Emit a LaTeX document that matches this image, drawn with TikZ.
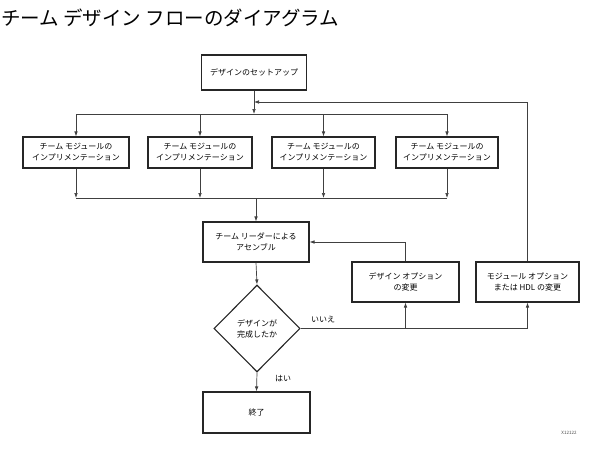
\documentclass[tikz,border=0pt]{standalone}
\usepackage{fontspec}
\setmainfont{Noto Sans CJK JP}
\usetikzlibrary{shapes.geometric,arrows.meta}
\tikzset{
  x=1pt,y=-1pt,
  boxst/.style={draw=black!85,line width=1.1pt,fill=white,align=center,font=\fontsize{8}{11}\selectfont,inner sep=2pt},
  conn/.style={draw=black!75,line width=0.7pt},
  arr/.style={conn,-{Latex[length=5pt,width=3.6pt]}},
  lbl/.style={font=\fontsize{8}{10}\selectfont,inner sep=0pt}
}
\begin{document}
\begin{tikzpicture}
\useasboundingbox[fill=white] (0,0) rectangle (589,450);
\node[anchor=west,inner sep=0pt,font=\fontsize{19.5}{21}\selectfont] (title) at (1,18) {チーム デザイン フローのダイアグラム};

\node[boxst,minimum width=105pt,minimum height=35pt] (setup) at (254,72.5) {デザインのセットアップ};
\node[boxst,minimum width=106pt,minimum height=31pt] (m1) at (76,152.5) {チーム モジュールの\\インプリメンテーション};
\node[boxst,minimum width=104pt,minimum height=31pt] (m2) at (200,152.5) {チーム モジュールの\\インプリメンテーション};
\node[boxst,minimum width=103pt,minimum height=31pt] (m3) at (323.5,152.5) {チーム モジュールの\\インプリメンテーション};
\node[boxst,minimum width=102pt,minimum height=31pt] (m4) at (447,152.5) {チーム モジュールの\\インプリメンテーション};
\node[boxst,minimum width=106pt,minimum height=40pt] (asm) at (256,242) {チーム リーダーによる\\アセンブル};
\node[boxst,diamond,minimum width=86pt,minimum height=87pt,inner sep=0pt] (dec) at (257,328.5) {デザインが\\完成したか};
\node[boxst,minimum width=107pt,minimum height=40pt] (opt) at (405.5,282) {デザイン オプション\\の変更};
\node[boxst,minimum width=103pt,minimum height=40pt] (mod) at (527.5,282) {モジュール オプション\\または HDL の変更};
\node[boxst,minimum width=107pt,minimum height=41pt] (fin) at (256.5,412.5) {終了};

\coordinate (splitT) at (0,114);
\coordinate (joinB) at (0,198);
\coordinate (loopT) at (0,102);

\draw[arr] (setup.south) -- (setup.south |- splitT);
\draw[conn] (m1.north |- splitT) -- (m4.north |- splitT);
\foreach \m in {m1,m2,m3,m4} {
  \draw[arr] (\m.north |- splitT) -- (\m.north);
  \draw[arr] (\m.south) -- (\m.south |- joinB);
}
\draw[conn] (m1.south |- joinB) -- (m4.south |- joinB);
\draw[arr] (asm.north |- joinB) -- (asm.north);
\draw[arr] (asm.south) -- (dec.north);
\draw[arr] (dec.south) -- (fin.north);
\draw[conn] (dec.east) -- (mod.south |- dec.east);
\draw[arr] (opt.south |- dec.east) -- (opt.south);
\draw[arr] (mod.south |- dec.east) -- (mod.south);
\draw[arr] (opt.north) |- (asm.east);
\draw[arr] (mod.north) |- (setup.south |- loopT);

\node[lbl] (no) at (323,320) {いいえ};
\node[lbl] (yes) at (283,379) {はい};
\node[inner sep=0pt,font=\fontsize{4.5}{5}\selectfont,text=black!70] (xid) at (569,433) {X12122};
\end{tikzpicture}
\end{document}
